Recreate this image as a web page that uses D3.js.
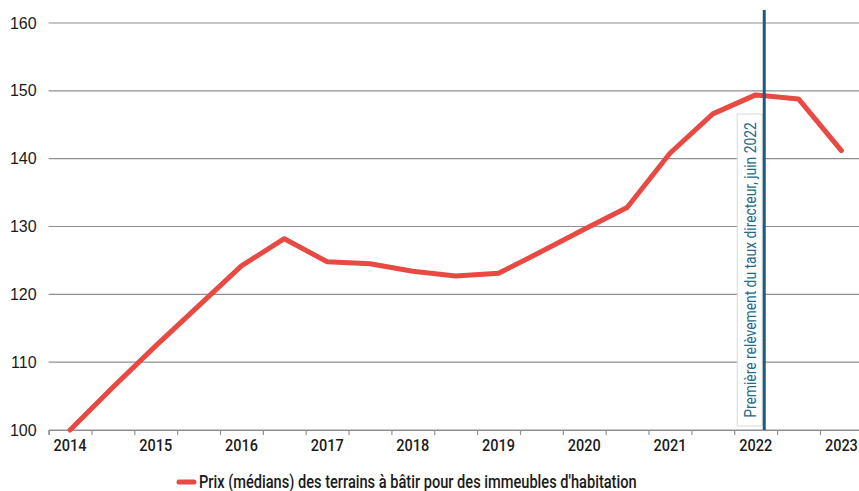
<!DOCTYPE html>
<html>
<head>
<meta charset="utf-8">
<script src="https://cdn.jsdelivr.net/npm/d3@7"></script>
<style>
  html, body { margin: 0; padding: 0; background: #fff; }
  svg { display: block; }
</style>
</head>
<body>
<svg id="chart" width="859" height="491"></svg>
<script>
// Half-year periods, from the first half of 2014 to the first half of 2023
const periods = [
  "2014-S1", "2014-S2", "2015-S1", "2015-S2", "2016-S1", "2016-S2",
  "2017-S1", "2017-S2", "2018-S1", "2018-S2", "2019-S1", "2019-S2",
  "2020-S1", "2020-S2", "2021-S1", "2021-S2", "2022-S1", "2022-S2",
  "2023-S1"
];
// Median price index of building land for residential buildings (2014-S1 = 100)
const prices = [
  100.0, 106.3, 112.4, 118.3, 124.2, 128.2,
  124.8, 124.5, 123.4, 122.7, 123.1, 126.3,
  129.6, 132.8, 140.8, 146.6, 149.4, 148.8,
  141.2
];
const yTicks = [100, 110, 120, 130, 140, 150, 160];
const seriesName = "Prix (médians) des terrains à bâtir pour des immeubles d'habitation";
// Policy-rate event, positioned in half-years counted from the start of 2014
const eventLabel = "Première relèvement du taux directeur, juin 2022";
const eventAt = 16.7;

(function draw() {
  const svg = d3.select("#chart");
  const plotLeft = 48.6, plotRight = 862.8, plotTop = 23, plotBottom = 430;

  const x = d3.scaleBand().domain(periods).range([plotLeft, plotRight]).padding(0);
  const xHalf = d3.scaleLinear().domain([0, periods.length]).range([plotLeft, plotRight]);
  const y = d3.scaleLinear().domain([100, 160]).range([plotBottom, plotTop]);

  // Condensed look: Roboto squeezed horizontally to a target width
  const cond = "Roboto, 'DejaVu Sans Condensed', sans-serif";
  const squeeze = (node, target) => {
    const w = node.getComputedTextLength();
    return w > 0 ? target / w : 1;
  };

  // Horizontal gridlines
  svg.append("g")
    .selectAll("line")
    .data(yTicks)
    .join("line")
    .attr("x1", plotLeft).attr("x2", 859)
    .attr("y1", d => y(d)).attr("y2", d => y(d))
    .attr("stroke", "#8f8f8f")
    .attr("stroke-width", 1.2);

  // Y axis labels
  const yAxis = svg.append("g")
    .attr("transform", `translate(${plotLeft},0)`)
    .call(d3.axisLeft(y).tickValues(yTicks).tickSize(0).tickPadding(12));
  yAxis.select(".domain").remove();
  yAxis.selectAll("text")
    .attr("font-family", "'Liberation Sans', Arial, sans-serif")
    .attr("font-size", 16)
    .attr("fill", "#1a1a1a");

  // X axis: tick marks at half-year boundaries
  const xTickAxis = svg.append("g")
    .attr("transform", `translate(0,${plotBottom})`)
    .call(d3.axisBottom(xHalf).tickValues(d3.range(0, periods.length)).tickSize(5).tickFormat(""));
  xTickAxis.select(".domain").attr("stroke", "#8f8f8f").attr("stroke-width", 1.2);
  xTickAxis.selectAll(".tick line").attr("stroke", "#8f8f8f").attr("stroke-width", 1.2);

  // X axis: year labels centred on the first half of each year
  const xLabelAxis = svg.append("g")
    .attr("transform", `translate(0,${plotBottom})`)
    .call(d3.axisBottom(x)
      .tickValues(periods.filter(p => p.endsWith("S1")))
      .tickFormat(p => p.slice(0, 4))
      .tickSize(0)
      .tickPadding(8.5));
  xLabelAxis.select(".domain").remove();
  xLabelAxis.selectAll("text")
    .attr("font-family", cond)
    .attr("font-size", 17)
    .attr("font-weight", 500)
    .attr("fill", "#1a1a1a")
    .attr("transform", function () { return `scale(${squeeze(this, 33)},1)`; });

  // Price line
  const line = d3.line()
    .x((d, i) => x(periods[i]) + x.bandwidth() / 2)
    .y(d => y(d));
  svg.append("path")
    .datum(prices)
    .attr("d", line)
    .attr("fill", "none")
    .attr("stroke", "#e84a43")
    .attr("stroke-width", 5)
    .attr("stroke-linejoin", "round")
    .attr("stroke-linecap", "round");

  // Event marker with its rotated, boxed label
  const ex = xHalf(eventAt);
  const boxW = 25, boxTop = 114, boxBottom = 426;
  svg.append("rect")
    .attr("x", ex - 2 - boxW).attr("y", boxTop)
    .attr("width", boxW).attr("height", boxBottom - boxTop)
    .attr("fill", "#fff")
    .attr("stroke", "#d9d9d9")
    .attr("stroke-width", 1);
  const evText = svg.append("text")
    .attr("text-anchor", "middle")
    .attr("font-family", cond)
    .attr("font-size", 16.5)
    .attr("fill", "#236a8e")
    .text(eventLabel);
  evText.attr("transform",
    `translate(${ex - 2 - boxW / 2 + 6},${(boxTop + boxBottom) / 2}) rotate(-90) scale(${squeeze(evText.node(), 296)},1)`);
  svg.append("line")
    .attr("x1", ex).attr("x2", ex)
    .attr("y1", 10).attr("y2", plotBottom)
    .attr("stroke", "#1c5b7c")
    .attr("stroke-width", 3);

  // Legend
  const legend = svg.append("g").attr("transform", "translate(178,482)");
  legend.append("line")
    .attr("x1", 1).attr("x2", 16)
    .attr("stroke", "#e84a43")
    .attr("stroke-width", 5)
    .attr("stroke-linecap", "round");
  const legText = legend.append("text")
    .attr("y", 6)
    .attr("font-family", cond)
    .attr("font-size", 18.5)
    .attr("font-weight", 500)
    .attr("fill", "#1a1a1a")
    .text(seriesName);
  legText.attr("transform", `translate(21,0) scale(${squeeze(legText.node(), 438)},1)`);
})();
</script>
</body>
</html>
